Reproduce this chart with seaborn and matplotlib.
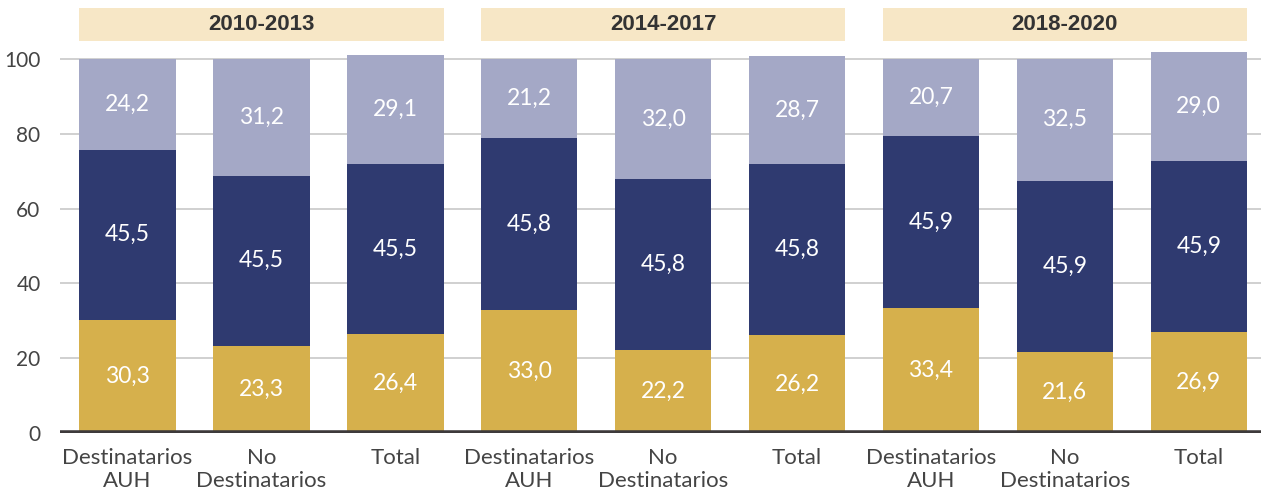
import numpy as np
import pandas as pd
import matplotlib.pyplot as plt
import seaborn as sns
from matplotlib.patches import Rectangle

# data
periods = ["2010-2013", "2014-2017", "2018-2020"]
groups = ["Destinatarios\nAUH", "No\nDestinatarios", "Total"]
bottom_vals = [30.3, 23.3, 26.4, 33.0, 22.2, 26.2, 33.4, 21.6, 26.9]
middle_vals = [45.5, 45.5, 45.5, 45.8, 45.8, 45.8, 45.9, 45.9, 45.9]
top_vals = [24.2, 31.2, 29.1, 21.2, 32.0, 28.7, 20.7, 32.5, 29.0]

c_gold = "#D6B04C"
c_navy = "#2F3A70"
c_lav = "#A4A8C6"
c_head = "#F7E7C6"
c_text = "#444444"

sns.set_style("white")
plt.rcParams["font.family"] = ["Lato", "DejaVu Sans"]

df = pd.DataFrame({
    "bar": [str(i) for i in range(len(bottom_vals))],
    "b": bottom_vals,
    "m": middle_vals,
    "t": top_vals,
})
df["c1"] = df["b"]
df["c2"] = df["b"] + df["m"]
df["c3"] = df["c2"] + df["t"]

fig = plt.figure(figsize=(12.61, 4.96), dpi=100)
ax = fig.add_axes([0.0476, 0.127, 0.9524, 0.867])

order = list(df["bar"])
# stacked by drawing cumulative heights, tallest first
for col, c in [("c3", c_lav), ("c2", c_navy), ("c1", c_gold)]:
    sns.barplot(data=df, x="bar", y=col, order=order, color=c, width=0.72,
                saturation=1, linewidth=0, edgecolor="none", ax=ax, zorder=2)

# value labels
for i, row in df.iterrows():
    for lo, hi, v in [(0, row["c1"], row["b"]), (row["c1"], row["c2"], row["m"]),
                      (row["c2"], row["c3"], row["t"])]:
        ax.text(i, (lo + hi) / 2, f"{v:.1f}".replace(".", ","), ha="center",
                va="center", color="white", fontsize=16.5, zorder=3)

ax.set_xlim(-0.504, 8.465)
ax.set_ylim(0, 115)
ax.set_yticks([0, 20, 40, 60, 80, 100])
ax.set_yticklabels(["0", "20", "40", "60", "80", "100"], fontsize=15, color=c_text)
ax.set_xticks(range(len(order)))
ax.set_xticklabels(groups * len(periods), fontsize=16, color=c_text, linespacing=1.2)
ax.tick_params(axis="both", length=0)
ax.tick_params(axis="y", pad=14)
ax.tick_params(axis="x", pad=11)
ax.set_xlabel("")
ax.set_ylabel("")
ax.yaxis.grid(True, color="#C8C8C8", lw=1.2, zorder=0)
ax.set_axisbelow(True)
ax.axhline(0, color="#3D3A3B", lw=4, zorder=4)
for s in ax.spines.values():
    s.set_visible(False)

# period headers
for k, p in enumerate(periods):
    x0 = 3 * k - 0.36
    ax.add_patch(Rectangle((x0, 104.8), 2.72, 8.8, facecolor=c_head,
                           edgecolor="none", clip_on=False, zorder=1))
    ax.text(3 * k + 1, 109.2, p, ha="center", va="center", fontsize=16,
            fontweight="bold", color="#333333", family="Liberation Sans")

fig.savefig("out.png", dpi=100)
